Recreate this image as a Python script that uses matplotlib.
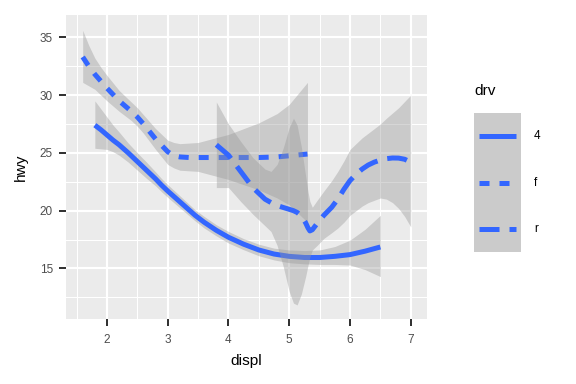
import matplotlib
matplotlib.use("Agg")
import matplotlib.pyplot as plt
from matplotlib.ticker import MultipleLocator

plt.rcParams["font.family"] = ["Liberation Sans", "DejaVu Sans"]

# ---- smoothed hwy ~ displ by drv ----
x_4 = [1.8, 1.9, 2.0, 2.1, 2.2, 2.35, 2.5, 2.65, 2.8, 2.9, 3.0, 3.15, 3.3, 3.45, 3.6,
       3.8, 4.0, 4.25, 4.5, 4.75, 5.0, 5.25, 5.5, 5.75, 6.0, 6.25, 6.5]
y_4 = [27.4, 27.0, 26.55, 26.1, 25.7, 25.0, 24.25, 23.5, 22.75, 22.2, 21.7, 21.0, 20.3,
       19.6, 19.0, 18.3, 17.7, 17.1, 16.6, 16.25, 16.05, 15.95, 15.95, 16.05, 16.2, 16.5, 16.86]
lo_4 = [25.4, 25.35, 25.3, 25.1, 24.8, 24.2, 23.5, 22.8, 22.15, 21.63, 21.15, 20.47, 19.8,
        19.12, 18.5, 17.82, 17.2, 16.62, 16.1, 15.74, 15.5, 15.4, 15.35, 15.35, 15.3, 14.9, 14.3]
hi_4 = [29.5, 28.8, 28.1, 27.4, 26.8, 25.85, 25.0, 24.2, 23.35, 22.77, 22.25, 21.53, 20.8,
        20.08, 19.5, 18.78, 18.2, 17.58, 17.1, 16.76, 16.6, 16.55, 16.6, 16.9, 17.45, 18.4, 19.6]

x_f = [1.6, 1.7, 1.8, 1.9, 2.0, 2.1, 2.2, 2.3, 2.4, 2.5, 2.6, 2.7, 2.8, 2.9, 3.0, 3.1,
       3.2, 3.35, 3.5, 4.0, 4.5, 4.8, 5.0, 5.3]
y_f = [33.3, 32.5, 31.8, 31.2, 30.6, 30.05, 29.5, 29.05, 28.6, 28.1, 27.5, 26.85, 26.2,
       25.65, 25.1, 24.75, 24.65, 24.6, 24.6, 24.6, 24.6, 24.65, 24.75, 24.9]
lo_f = [31.1, 30.8, 30.5, 30.0, 29.5, 29.05, 28.6, 28.2, 27.8, 27.3, 26.7, 26.0, 25.3,
        24.65, 24.0, 23.7, 23.5, 23.45, 23.4, 22.7, 21.8, 21.1, 20.5, 19.0]
hi_f = [35.6, 34.3, 33.2, 32.4, 31.7, 31.05, 30.4, 29.9, 29.4, 28.9, 28.3, 27.7, 27.1,
        26.6, 26.1, 25.9, 25.8, 25.85, 25.9, 26.6, 27.6, 28.4, 29.2, 31.1]

x_r = [3.8, 4.0, 4.2, 4.4, 4.6, 4.7, 4.8, 4.9, 5.0, 5.07, 5.13, 5.2, 5.27, 5.31, 5.34,
       5.38, 5.46, 5.57, 5.7, 5.8, 5.9, 6.0, 6.1, 6.2, 6.3, 6.4, 6.5, 6.6, 6.7, 6.8, 6.9, 7.0]
y_r = [25.7, 24.8, 23.4, 22.0, 21.0, 20.7, 20.45, 20.28, 20.12, 20.0, 19.85, 19.55, 18.95,
       18.5, 18.25, 18.35, 18.9, 19.6, 20.3, 21.0, 21.85, 22.6, 23.15, 23.6, 23.95, 24.2,
       24.38, 24.5, 24.56, 24.55, 24.45, 24.2]
lo_r = [22.0, 22.0, 20.8, 19.7, 18.7, 18.2, 17.0, 15.2, 13.0, 12.0, 11.85, 12.8, 14.3,
        15.3, 16.0, 16.6, 17.0, 17.6, 18.1, 18.5, 19.0, 19.6, 20.0, 20.4, 20.7, 20.9, 21.1,
        21.0, 20.7, 20.2, 19.5, 18.6]
hi_r = [29.4, 27.5, 26.0, 24.6, 23.6, 23.4, 24.0, 25.4, 27.2, 28.0, 27.4, 25.5, 23.0,
        21.6, 20.8, 20.3, 20.9, 21.7, 22.6, 23.4, 24.3, 25.3, 25.8, 26.3, 26.7, 27.1, 27.5,
        28.0, 28.45, 28.9, 29.45, 30.0]

drv_labels = ["4", "f", "r"]
x_ticks = [2, 3, 4, 5, 6, 7]
y_ticks = [15, 20, 25, 30, 35]

BLUE = "#3366FF"
LW = 3.75
styles = {"4": "-", "f": (0, (2, 2)), "r": (0, (4, 2))}

fig = plt.figure(figsize=(6, 4), dpi=96)
ax = fig.add_axes([66 / 576, 1 - 319 / 384, (426.7 - 66) / 576, (319 - 15) / 384])
ax.set_facecolor("#EBEBEB")

groups = [
    ("4", x_4, y_4, lo_4, hi_4),
    ("f", x_f, y_f, lo_f, hi_f),
    ("r", x_r, y_r, lo_r, hi_r),
]
# ggplot draws ribbon + line group by group, so later ribbons veil earlier lines
z = 2
for name, xs, ys, lo, hi in groups:
    ax.fill_between(xs, lo, hi, color="#999999", alpha=0.4, lw=0, zorder=z)
    ax.plot(xs, ys, color=BLUE, lw=LW, ls=styles[name], solid_capstyle="butt",
            dash_capstyle="butt", solid_joinstyle="round", zorder=z + 1)
    z += 2

ax.set_xlim(1.325, 7.263)
ax.set_ylim(10.63, 36.93)
ax.set_xticks(x_ticks)
ax.set_yticks(y_ticks)
ax.xaxis.set_minor_locator(MultipleLocator(0.5))
ax.yaxis.set_minor_locator(MultipleLocator(2.5))
ax.grid(which="major", color="white", lw=1.6, zorder=0)
ax.grid(which="minor", color="white", lw=0.8, zorder=0)
ax.set_axisbelow(True)
for s in ax.spines.values():
    s.set_visible(False)
ax.tick_params(which="major", length=5.25, width=1.5, color="#333333",
               labelcolor="#4D4D4D", labelsize=8.8)
ax.tick_params(axis="x", pad=6)
ax.tick_params(axis="y", pad=4.5)
ax.tick_params(which="minor", length=0)
ax.set_xlabel("displ", fontsize=11.5, labelpad=6)
ax.set_ylabel("hwy", fontsize=11.5, labelpad=9)

# ---- legend drawn by hand (ggplot-style stacked keys) ----
lax = fig.add_axes([474 / 576, 1 - 252 / 384, 46.7 / 576, 139 / 384])
lax.set_facecolor("#CBCBCB")
lax.set_xlim(0, 1)
lax.set_ylim(0, 3)
lax.set_xticks([])
lax.set_yticks([])
for s in lax.spines.values():
    s.set_visible(False)
for i, name in enumerate(drv_labels):
    yk = 2.5 - i
    lax.plot([0.1, 0.9], [yk, yk], color=BLUE, lw=LW, ls=styles[name],
             solid_capstyle="butt", dash_capstyle="butt")
    fig.text(534 / 576, lax.transData.transform((0, yk))[1] / 384, name,
             fontsize=8.8, va="center", ha="left", color="black")
fig.text(474 / 576, 1 - 91 / 384, "drv", fontsize=11.5, va="center", ha="left")

fig.savefig("out.png", dpi=96)
